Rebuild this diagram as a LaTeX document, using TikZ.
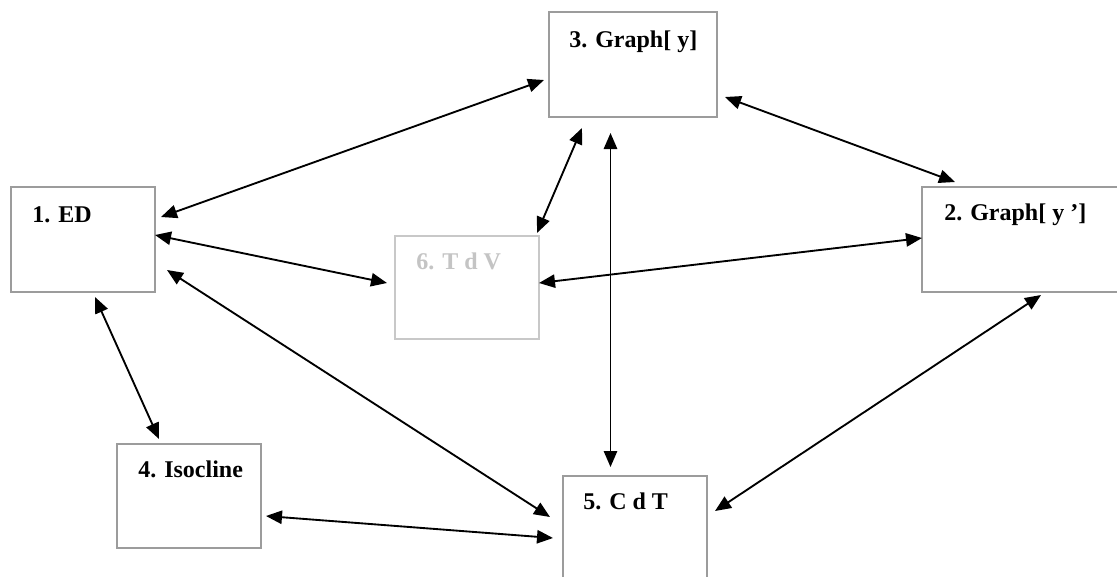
\documentclass[tikz,border=0pt]{standalone}
\usepackage{fontspec}
\setmainfont{Liberation Serif}
\usetikzlibrary{arrows.meta,calc}
\definecolor{boxgray}{HTML}{9C9C9C}
\definecolor{palegray}{HTML}{C8C8C8}
\definecolor{paletext}{HTML}{C4C4C4}
\tikzset{
  box/.style={draw=boxgray,line width=1.1pt,fill=none,inner sep=0pt,outer sep=0pt},
  palebox/.style={box,draw=palegray},
  lbl/.style={anchor=base west,inner sep=0pt,font=\fontsize{18pt}{20pt}\selectfont\bfseries},
  palelbl/.style={lbl,text=paletext},
  dbl/.style={line width=1.4pt,{Triangle[length=12pt,width=10pt]}-{Triangle[length=12pt,width=10pt]}}
}
\begin{document}
\begin{tikzpicture}[x=0.75pt,y=-0.75pt]
\clip (0,0) rectangle (1117,576);
\fill[white] (0,0) rectangle (1117,576);
% boxes
\node[box,minimum width=144*0.75pt,minimum height=105*0.75pt] (b1) at (83,239.5) {};
\node[box,minimum width=168*0.75pt,minimum height=105*0.75pt] (b3) at (633,64.5) {};
\node[box,minimum width=218*0.75pt,minimum height=105*0.75pt] (b2) at (1031,239.5) {};
\node[palebox,minimum width=144*0.75pt,minimum height=103*0.75pt] (b6) at (467,287.5) {};
\node[box,minimum width=144*0.75pt,minimum height=104*0.75pt] (b4) at (189,496) {};
\node[box,minimum width=144*0.75pt,minimum height=128*0.75pt] (b5) at (635,540) {};
% labels
\node[lbl] (l1) at ($(b1.north west)+(21,35.5)$) {1. ED};
\node[lbl] (l3) at ($(b3.north west)+(20,35)$) {3. Graph[ y]};
\node[lbl] (l2) at ($(b2.north west)+(22,33.5)$) {2. Graph[ y ’]};
\node[palelbl] (l6) at ($(b6.north west)+(21,33.5)$) {6. T d V};
\node[lbl] (l4) at ($(b4.north west)+(21,33.5)$) {4. Isocline};
\node[lbl] (l5) at ($(b5.north west)+(20,33.5)$) {5. C d T};
% connectors
\draw[dbl] ($(b1.north east)+(6,30)$) -- ($(b3.north west)+(-5,68)$);
\draw[dbl] ($(b3.north east)+(8,85)$) -- ($(b2.north west)+(33,-5)$);
\draw[dbl] ($(b3.south west)+(33,11)$) -- ($(b6.north east)+(-2,-3)$);
\draw[dbl] ($(b3.south west)+(61.5,16)$) -- ($(b5.north west)+(47.5,-9)$);
\draw[dbl] ($(b1.north east)+(0,48)$) -- ($(b6.north west)+(-8,47)$);
\draw[dbl] ($(b6.north east)+(0,47)$) -- ($(b2.north west)+(0,51)$);
\draw[dbl] ($(b1.north east)+(12,83)$) -- ($(b5.north west)+(-13,41)$);
\draw[dbl] ($(b1.south west)+(84,5)$) -- ($(b4.north west)+(42,-5)$);
\draw[dbl] ($(b4.north east)+(5,72)$) -- ($(b5.north west)+(-10,62)$);
\draw[dbl] ($(b2.south west)+(119,3)$) -- ($(b5.north east)+(8,35)$);
\end{tikzpicture}
\end{document}
